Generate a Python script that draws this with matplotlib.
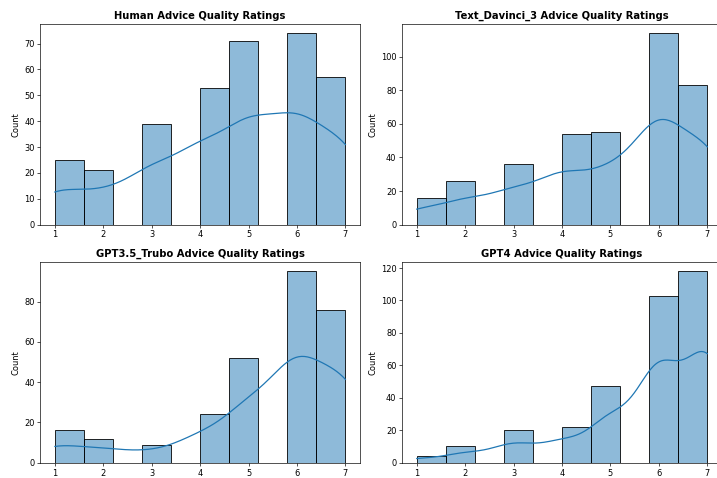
import matplotlib
matplotlib.use('Agg')
import matplotlib.pyplot as plt
import seaborn as sns
import numpy as np
import pandas as pd

ratings = [1, 2, 3, 4, 5, 6, 7]
# counts per rating
human_counts = [25, 21, 39, 53, 71, 74, 57]
davinci_counts = [16, 26, 36, 54, 55, 114, 83]
gpt35_counts = [16, 12, 9, 24, 52, 95, 76]
gpt4_counts = [4, 10, 20, 22, 47, 103, 118]

titles = ['Human Advice Quality Ratings', 'Text_Davinci_3 Advice Quality Ratings',
          'GPT3.5_Trubo Advice Quality Ratings', 'GPT4 Advice Quality Ratings']
all_counts = [human_counts, davinci_counts, gpt35_counts, gpt4_counts]

fig = plt.figure(figsize=(12, 8), dpi=717/12)
# 右边两个子图被截掉一点（原图就是这样）
positions = [[0.0563, 0.530, 0.4457, 0.4205], [0.561, 0.530, 0.4457, 0.4205],
             [0.0563, 0.032, 0.4457, 0.4205], [0.561, 0.032, 0.4457, 0.4205]]
for pos, counts, title in zip(positions, all_counts, titles):
    ax = fig.add_axes(pos)
    # 展开成原始评分
    data = pd.Series(np.repeat(ratings, counts))
    sns.histplot(data, bins=10, kde=True, ax=ax)
    ax.set_title(title, fontweight='bold')
    ax.set_xlabel('')
    ax.set_ylabel('Count')

plt.savefig('out.png', dpi=717/12)
